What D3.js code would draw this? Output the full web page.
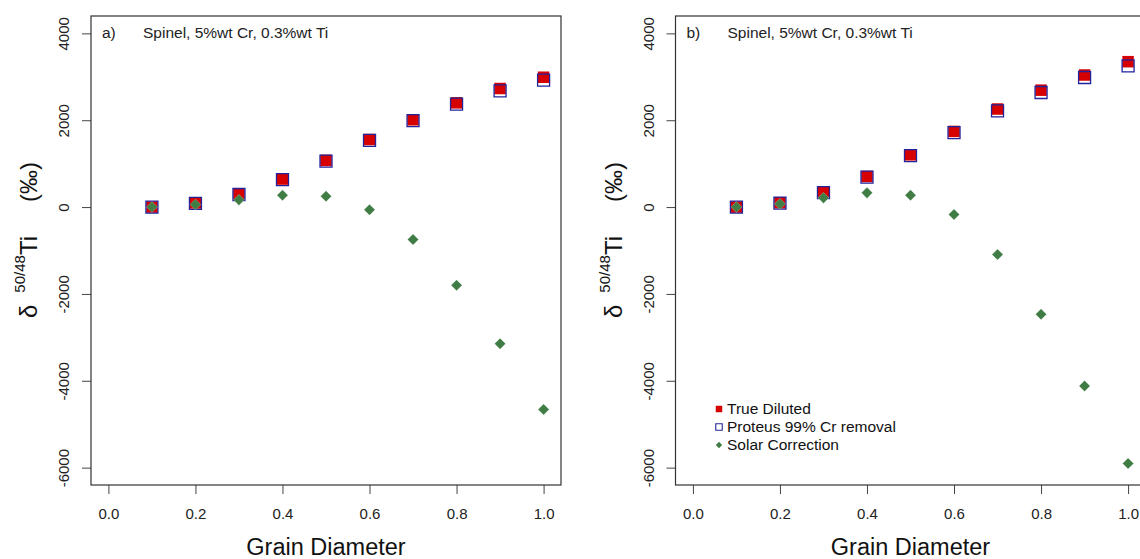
<!DOCTYPE html>
<html>
<head>
<meta charset="utf-8">
<script src="https://cdn.jsdelivr.net/npm/d3@7"></script>
<style>
  body { margin: 0; background: #fff; }
  svg { display: block; font-family: "Liberation Sans", Arial, Helvetica, sans-serif; }
</style>
</head>
<body>
<svg id="chart" width="1140" height="559"></svg>
<script>
// values
var grain = [0.1, 0.2, 0.3, 0.4, 0.5, 0.6, 0.7, 0.8, 0.9, 1.0]

var trueDilutedA = [0, 95, 305, 645, 1075, 1555, 2010, 2400, 2730, 2990]
var proteusA     = [0, 85, 290, 630, 1060, 1535, 1990, 2370, 2677, 2922]
var solarA       = [0, 58, 166, 272, 249, -62, -749, -1802, -3145, -4659]

var trueDilutedB = [0, 100, 350, 705, 1203, 1742, 2258, 2692, 3041, 3348]
var proteusB     = [0, 92, 335, 690, 1185, 1715, 2216, 2638, 2984, 3253]
var solarB       = [0, 74, 212, 327, 272, -170, -1094, -2470, -4120, -5903]

var xTicks = [0, 0.2, 0.4, 0.6, 0.8, 1.0]
var yTicks = [-6000, -4000, -2000, 0, 2000, 4000]

var panelLabels = ["a)", "b)"]
var panelTitle = "Spinel, 5%wt Cr, 0.3%wt Ti"
var legendLabels = ["True Diluted", "Proteus 99% Cr removal", "Solar Correction"]

var colors = { red: "#d60000", blue: "#23239c", green: "#3f7d44" }

var svg = d3.select("#chart")

var dims = { top: 16, bottom: 485, width: 470 }

function drawPanel(left, label, red, blue, green, withLegend) {
  var xScale = d3.scaleLinear().domain([-0.04, 1.04]).range([left, left + dims.width])
  var yScale = d3.scaleLinear().domain([-6400, 4400]).range([dims.bottom, dims.top])

  var g = svg.append("g")

  // x axis
  var xAxisGen = d3.axisBottom(xScale).tickValues(xTicks)
                   .tickFormat(d => d.toFixed(1)).tickSize(9).tickPadding(14.3)
  var xAxis = g.append("g")
               .attr("transform", `translate(0,${dims.bottom})`)
               .call(xAxisGen)
  xAxis.select(".domain").remove()
  xAxis.selectAll("line").attr("stroke", "#444")
  xAxis.selectAll("text").attr("font-size", 15).attr("fill", "#222")
       .style("font-family", "'Liberation Sans', Arial, sans-serif")

  // y axis, labels rotated (plain hyphen minus, no thousands comma)
  var yAxisGen = d3.axisLeft(yScale).tickValues(yTicks).tickSize(9)
                   .tickFormat(d => String(d))
  var yAxis = g.append("g")
               .attr("transform", `translate(${left},0)`)
               .call(yAxisGen)
  yAxis.select(".domain").remove()
  yAxis.selectAll("line").attr("stroke", "#444")
  yAxis.selectAll("text")
       .attr("x", null).attr("dy", null)
       .attr("text-anchor", "middle")
       .attr("transform", "translate(-22,0) rotate(-90)")
       .attr("font-size", 15).attr("fill", "#222")
       .style("font-family", "'Liberation Sans', Arial, sans-serif")

  // box
  g.append("rect")
   .attr("x", left).attr("y", dims.top)
   .attr("width", dims.width).attr("height", dims.bottom - dims.top)
   .attr("fill", "none").attr("stroke", "#333").attr("stroke-width", 1.2)

  // marks
  var sqRed = d3.symbol(d3.symbolSquare, 11.5 * 11.5)
  var sqBlue = d3.symbol(d3.symbolSquare, 12 * 12)
  var dia = d3.symbol(d3.symbolSquare, 7.8 * 7.8)

  g.append("g").selectAll("path")
   .data(grain.map((x, i) => [x, red[i]]))
   .enter().append("path")
   .attr("d", sqRed)
   .attr("transform", d => `translate(${xScale(d[0])},${yScale(d[1])})`)
   .attr("fill", colors.red)

  g.append("g").selectAll("path")
   .data(grain.map((x, i) => [x, blue[i]]))
   .enter().append("path")
   .attr("d", sqBlue)
   .attr("transform", d => `translate(${xScale(d[0])},${yScale(d[1])})`)
   .attr("fill", "none").attr("stroke", colors.blue).attr("stroke-width", 1.3)

  g.append("g").selectAll("path")
   .data(grain.map((x, i) => [x, green[i]]))
   .enter().append("path")
   .attr("d", dia)
   .attr("transform", d => `translate(${xScale(d[0])},${yScale(d[1])}) rotate(45)`)
   .attr("fill", colors.green)
   .attr("stroke", "#ffffff").attr("stroke-opacity", 0.4).attr("stroke-width", 0.6)

  // panel title
  g.append("text").text(label)
   .attr("x", left + 11).attr("y", 37.5).attr("font-size", 15.5).attr("fill", "#222")
  g.append("text").text(panelTitle)
   .attr("x", left + 52).attr("y", 37.5).attr("font-size", 15.5).attr("fill", "#222")

  // x label
  g.append("text").text("Grain Diameter")
   .attr("x", left + dims.width / 2).attr("y", 555)
   .attr("text-anchor", "middle").attr("font-size", 23.5).attr("fill", "#111")

  // y label: delta 50/48 Ti (permil)
  var ylab = g.append("text")
              .attr("transform", `translate(${left - 54},0) rotate(-90)`)
              .attr("x", -318).attr("y", 0)
              .attr("fill", "#111")
  ylab.append("tspan").text("δ").attr("font-size", 24)
  ylab.append("tspan").text("50/48").attr("font-size", 15).attr("dx", 12).attr("dy", -12)
  ylab.append("tspan").text("Ti").attr("font-size", 24).attr("dy", 12).attr("dx", 0)
  ylab.append("tspan").text("(‰)").attr("font-size", 24).attr("dx", 34)

  if (withLegend) {
    var lx = left + 43.5
    var ly = [409, 427, 445]
    var leg = g.append("g")
    leg.append("path").attr("d", d3.symbol(d3.symbolSquare, 42))
       .attr("transform", `translate(${lx},${ly[0]})`).attr("fill", colors.red)
    leg.append("path").attr("d", d3.symbol(d3.symbolSquare, 42))
       .attr("transform", `translate(${lx},${ly[1]})`)
       .attr("fill", "none").attr("stroke", colors.blue).attr("stroke-width", 1.1)
    leg.append("path").attr("d", d3.symbol(d3.symbolSquare, 20))
       .attr("transform", `translate(${lx},${ly[2]}) rotate(45)`).attr("fill", colors.green)
    leg.selectAll("text")
       .data(legendLabels)
       .enter().append("text")
       .text(d => d)
       .attr("x", lx + 8).attr("y", (d, i) => ly[i] + 5.3)
       .attr("font-size", 15.5).attr("fill", "#111")
  }
}

drawPanel(91, panelLabels[0], trueDilutedA, proteusA, solarA, false)
drawPanel(675.5, panelLabels[1], trueDilutedB, proteusB, solarB, true)
</script>
</body>
</html>
